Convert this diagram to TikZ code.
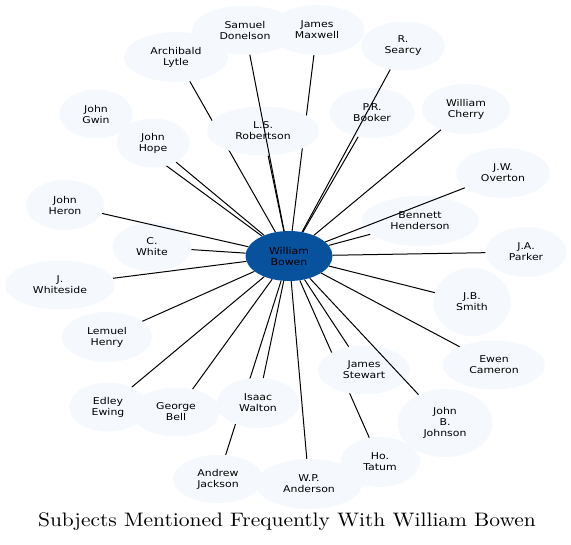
\documentclass[tikz,border=0pt]{standalone}
\usepackage{fontspec}
\usepackage{tikz}
\usetikzlibrary{shapes.geometric,backgrounds}

\newfontfamily\lblfont[FakeStretch=1.16]{DejaVu Sans}
\newfontfamily\ttlfont[Extension=.otf,FakeStretch=1.1]{lmroman10-regular}
\definecolor{leaf}{HTML}{F5F9FE}
\definecolor{hub}{HTML}{08519C}

\begin{document}
\begin{tikzpicture}[x=1pt,y=-1pt,
  subj/.style n args={2}{ellipse,fill=leaf,inner sep=0pt,align=center,
    minimum width=#1,minimum height=#2,font=\lblfont\fontsize{9.4}{11}\selectfont},
  hubnode/.style={subj={87pt}{50pt},fill=hub},
  edge/.style={line width=1.0pt,black},
  ttl/.style={font=\ttlfont\fontsize{19.5}{22}\selectfont,anchor=base},
]
\useasboundingbox (0,0) rectangle (571,545);

%% ---- centre ----
\node[hubnode] (bowen) at (289,256) {William\\Bowen};

%% ---- upper ring ----
\node[subj={106pt}{49pt}] (donelson)  at (245,30)  {Samuel\\Donelson};
\node[subj={95pt}{50pt}]  (maxwell)   at (317,30)  {James\\Maxwell};
\node[subj={104pt}{50pt}] (lytle)     at (176,57)  {Archibald\\Lytle};
\node[subj={84pt}{49pt}]  (searcy)    at (403,46)  {R.\\Searcy};
\node[subj={73pt}{49pt}]  (gwin)      at (96,114)  {John\\Gwin};
\node[subj={73pt}{49pt}]  (hope)      at (153,143) {John\\Hope};
\node[subj={112pt}{49pt}] (robertson) at (263,131) {L.S.\\Robertson};
\node[subj={85pt}{50pt}]  (booker)    at (372,113) {P.R.\\Booker};
\node[subj={88pt}{50pt}]  (cherry)    at (466,109) {William\\Cherry};
\node[subj={94pt}{50pt}]  (overton)   at (503,173) {J.W.\\Overton};

%% ---- middle band ----
\node[subj={78pt}{50pt}]  (heron)     at (65,205)  {John\\Heron};
\node[subj={79pt}{49pt}]  (white)     at (152,247) {C.\\White};
\node[subj={117pt}{50pt}] (henderson) at (420,221) {Bennett\\Henderson};
\node[subj={81pt}{50pt}]  (parker)    at (526,252) {J.A.\\Parker};
\node[subj={110pt}{49pt}] (whiteside) at (60,285)  {J.\\Whiteside};
\node[subj={90pt}{50pt}]  (henry)     at (107,337) {Lemuel\\Henry};
\node[subj={77pt}{68pt}]  (smith)     at (472,302) {J.B.\\Smith};
\node[subj={102pt}{49pt}] (cameron)   at (494,365) {Ewen\\Cameron};

%% ---- lower ring ----
\node[subj={92pt}{49pt}]  (stewart)   at (364,370) {James\\Stewart};
\node[subj={78pt}{49pt}]  (ewing)     at (108,407) {Edley\\Ewing};
\node[subj={88pt}{49pt}]  (bell)      at (176,412) {George\\Bell};
\node[subj={83pt}{50pt}]  (walton)    at (258,403) {Isaac\\Walton};
\node[subj={95pt}{68pt}]  (johnson)   at (445,423) {John\\B.\\Johnson};
\node[subj={79pt}{50pt}]  (tatum)     at (380,462) {Ho.\\Tatum};
\node[subj={90pt}{48pt}]  (jackson)   at (218,479) {Andrew\\Jackson};
\node[subj={106pt}{50pt}] (anderson)  at (309,484) {W.P.\\Anderson};

%% ---- links: these run beneath other nodes ----
\begin{pgfonlayer}{background}
  \foreach \n in {lytle,maxwell,gwin,ewing,jackson,tatum}
    \draw[edge] (bowen) -- (\n);
\end{pgfonlayer}

%% ---- links: drawn on top ----
\foreach \n in {donelson,searcy,hope,robertson,booker,cherry,overton,
                heron,white,henderson,parker,whiteside,henry,smith,cameron,
                stewart,bell,walton,johnson,anderson}
  \draw[edge] (bowen) -- (\n);

%% ---- caption ----
\node[ttl] (title) at (287,527) {Subjects Mentioned Frequently With William Bowen};

\end{tikzpicture}
\end{document}
